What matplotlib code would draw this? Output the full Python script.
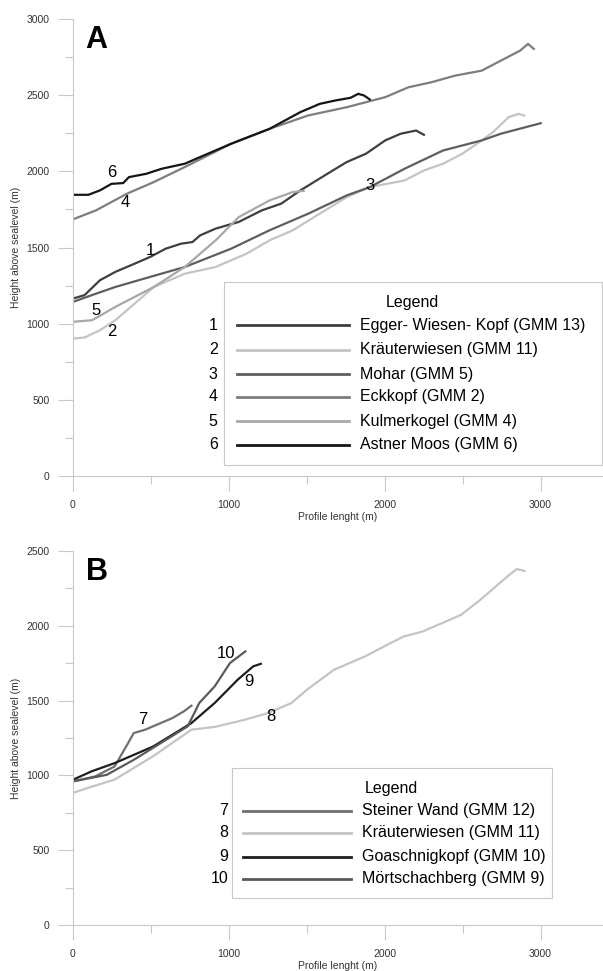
import matplotlib
matplotlib.use("Agg")
import matplotlib.pyplot as plt
from matplotlib.lines import Line2D
from matplotlib.patches import Rectangle
from matplotlib.ticker import MultipleLocator, FuncFormatter

plt.rcParams['font.family'] = ['Liberation Sans', 'DejaVu Sans']

# ---- panel A profiles (distance m, height m) ----
egger_x = [0, 74, 173, 272, 396, 495, 594, 693, 767, 816, 915, 1064, 1212, 1336, 1459, 1632, 1756, 1880, 2003, 2102, 2201, 2251]
egger_y = [1165, 1187, 1285, 1340, 1394, 1438, 1492, 1525, 1536, 1580, 1624, 1668, 1744, 1788, 1875, 1984, 2061, 2116, 2203, 2247, 2268, 2240]

kraut_x = [0, 74, 173, 272, 371, 519, 717, 915, 1113, 1261, 1410, 1583, 1756, 1905, 2127, 2251, 2374, 2498, 2622, 2696, 2795, 2857, 2894]
kraut_y = [902, 909, 957, 1023, 1110, 1241, 1328, 1372, 1459, 1547, 1613, 1722, 1831, 1897, 1940, 2006, 2050, 2116, 2203, 2258, 2356, 2377, 2367]

mohar_x = [0, 148, 272, 495, 717, 1014, 1261, 1509, 1756, 1905, 2127, 2374, 2622, 2745, 3000]
mohar_y = [1143, 1197, 1241, 1307, 1372, 1492, 1613, 1722, 1842, 1897, 2017, 2137, 2203, 2247, 2316]

eck_x = [0, 148, 346, 519, 717, 1014, 1261, 1509, 1756, 2003, 2152, 2300, 2449, 2622, 2745, 2869, 2919, 2956]
eck_y = [1685, 1744, 1853, 1930, 2028, 2181, 2279, 2367, 2421, 2487, 2552, 2585, 2628, 2661, 2727, 2793, 2837, 2804]

kulm_x = [0, 124, 272, 519, 717, 915, 1064, 1261, 1410, 1480]
kulm_y = [1012, 1023, 1110, 1241, 1372, 1547, 1700, 1809, 1864, 1872]

astner_x = [0, 99, 173, 247, 322, 359, 470, 569, 717, 816, 1014, 1261, 1360, 1459, 1583, 1682, 1781, 1830, 1867, 1904]
astner_y = [1846, 1846, 1875, 1918, 1923, 1962, 1984, 2017, 2050, 2094, 2181, 2279, 2334, 2389, 2443, 2465, 2483, 2509, 2498, 2472]

# ---- panel B profiles ----
steiner_x = [0, 143, 267, 341, 390, 464, 563, 637, 711, 760]
steiner_y = [960, 993, 1060, 1193, 1283, 1306, 1350, 1383, 1428, 1466]

kraut2_x = [0, 94, 267, 514, 760, 909, 1106, 1254, 1402, 1501, 1674, 1872, 1995, 2119, 2242, 2365, 2489, 2612, 2711, 2785, 2847, 2896]
kraut2_y = [883, 916, 972, 1128, 1306, 1324, 1373, 1418, 1484, 1573, 1706, 1795, 1862, 1928, 1962, 2017, 2073, 2173, 2262, 2329, 2380, 2367]

goasch_x = [0, 119, 267, 514, 760, 909, 1057, 1156, 1205]
goasch_y = [971, 1027, 1082, 1193, 1350, 1484, 1640, 1729, 1746]

moert_x = [0, 217, 390, 563, 736, 810, 909, 1007, 1106]
moert_y = [960, 1004, 1104, 1216, 1328, 1484, 1595, 1751, 1829]

ids_a = ["1", "2", "3", "4", "5", "6"]
names_a = ["Egger- Wiesen- Kopf (GMM 13)", "Kräuterwiesen (GMM 11)", "Mohar (GMM 5)",
           "Eckkopf (GMM 2)", "Kulmerkogel (GMM 4)", "Astner Moos (GMM 6)"]
ids_b = ["7", "8", "9", "10"]
names_b = ["Steiner Wand (GMM 12)", "Kräuterwiesen (GMM 11)", "Goaschnigkopf (GMM 10)", "Mörtschachberg (GMM 9)"]

# where the curve numbers sit
tags_a = [(495, 1482), (247, 946), (1905, 1908), (334, 1798), (148, 1088), (247, 1990)]
tags_b = [(447, 1372), (1267, 1394), (1131, 1628), (983, 1817)]

cols_a = ["#3f3f3f", "#c4c4c4", "#5e5e5e", "#7d7d7d", "#a8a8a8", "#151515"]
cols_b = ["#6f6f6f", "#c4c4c4", "#1e1e1e", "#5a5a5a"]

fig = plt.figure(figsize=(6.03, 9.71), dpi=100)


def style_axes(ax, ytop):
    ax.set_xlim(0, 3400)
    ax.set_ylim(0, ytop)
    for s in ("top", "right"):
        ax.spines[s].set_visible(False)
    for s in ("left", "bottom"):
        ax.spines[s].set_color("#c8c8c8")
        ax.spines[s].set_linewidth(0.8)
    ax.xaxis.set_major_locator(MultipleLocator(1000))
    ax.xaxis.set_minor_locator(MultipleLocator(500))
    ax.yaxis.set_major_locator(MultipleLocator(500))
    ax.yaxis.set_minor_locator(MultipleLocator(250))
    ax.xaxis.set_major_formatter(FuncFormatter(lambda v, p: "%d" % v if v <= 3000 else ""))
    ax.tick_params(which="major", length=11, width=0.8, color="#c8c8c8", labelsize=7.5,
                   labelcolor="#333333", pad=6)
    ax.tick_params(which="minor", length=6, width=0.8, color="#c8c8c8")
    ax.set_ylabel("Height above sealevel (m)", fontsize=7.5, color="#333333", labelpad=4)
    ax.set_xlabel("Profile lenght (m)", fontsize=7.5, color="#333333", labelpad=2)


def draw_legend(ax, box, title_xy, rows_y, num_x, line_x, text_x, ids, names, cols):
    x0, y0, x1, y1 = box
    ax.add_patch(Rectangle((x0, y0), x1 - x0, y1 - y0, transform=ax.transAxes, facecolor="white",
                           edgecolor="#c8c8c8", linewidth=0.8, zorder=5))
    ax.text(title_xy[0], title_xy[1], "Legend", transform=ax.transAxes,
            fontsize=11.5, ha="center", va="center", zorder=6)
    for i, yy in enumerate(rows_y):
        ax.text(num_x, yy, ids[i], transform=ax.transAxes, fontsize=11.5,
                ha="right", va="center", zorder=6)
        ax.add_line(Line2D(line_x, [yy, yy], transform=ax.transAxes,
                           color=cols[i], linewidth=2, zorder=6))
        ax.text(text_x, yy, names[i], transform=ax.transAxes, fontsize=11.5,
                ha="left", va="center", zorder=6)


# panel A
ax1 = fig.add_axes([0.121, 0.5098, 0.879, 0.4706])
series_a = [(egger_x, egger_y), (kraut_x, kraut_y), (mohar_x, mohar_y),
            (eck_x, eck_y), (kulm_x, kulm_y), (astner_x, astner_y)]
for (xs, ys), c in zip(series_a, cols_a):
    ax1.plot(xs, ys, color=c, linewidth=1.6)
for t, (tx, ty) in zip(ids_a, tags_a):
    ax1.text(tx, ty, t, fontsize=12, ha="center", va="center")
style_axes(ax1, 3000)
ax1.text(0.024, 0.955, "A", transform=ax1.transAxes, fontsize=22, fontweight="bold", va="center")
draw_legend(ax1, (0.285, 0.024, 0.998, 0.425), (0.64, 0.379),
            [0.330, 0.276, 0.223, 0.173, 0.120, 0.068],
            0.273, (0.309, 0.521), 0.541, ids_a, names_a, cols_a)

# panel B
ax2 = fig.add_axes([0.121, 0.0474, 0.879, 0.3851])
series_b = [(steiner_x, steiner_y), (kraut2_x, kraut2_y), (goasch_x, goasch_y), (moert_x, moert_y)]
for (xs, ys), c in zip(series_b, cols_b):
    ax2.plot(xs, ys, color=c, linewidth=1.6)
for t, (tx, ty) in zip(ids_b, tags_b):
    ax2.text(tx, ty, t, fontsize=12, ha="center", va="center")
style_axes(ax2, 2500)
ax2.text(0.024, 0.945, "B", transform=ax2.transAxes, fontsize=22, fontweight="bold", va="center")
draw_legend(ax2, (0.300, 0.072, 0.904, 0.420), (0.60, 0.366),
            [0.305, 0.246, 0.182, 0.123],
            0.293, (0.321, 0.525), 0.545, ids_b, names_b, cols_b)

fig.savefig("out.png", dpi=100)
